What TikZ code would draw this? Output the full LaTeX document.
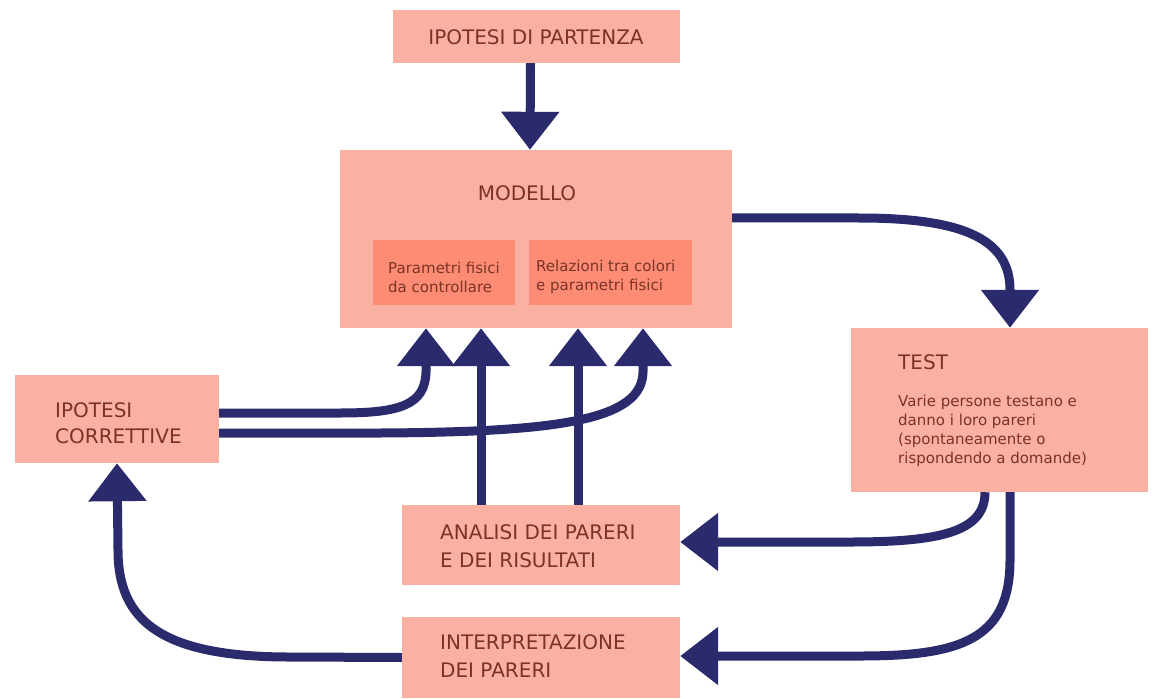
\documentclass[tikz,border=0pt]{standalone}
\usepackage{fontspec}
\setmainfont{DejaVu Sans}
\usetikzlibrary{arrows.meta}
\definecolor{boxfill}{HTML}{FBB1A1}
\definecolor{innerfill}{HTML}{FE8C74}
\definecolor{ink}{HTML}{7A3326}
\definecolor{navy}{HTML}{2B2A6C}
\tikzset{
  box/.style={fill=boxfill, draw=none, inner sep=0pt, anchor=center},
  inner/.style={fill=innerfill, draw=none, inner sep=0pt, anchor=center},
  title/.style={text=ink, font=\fontsize{20}{26}\selectfont, anchor=west, align=left, inner sep=0pt},
  small/.style={text=ink, font=\fontsize{15}{19}\selectfont, anchor=west, align=left, inner sep=0pt},
  flow/.style={draw=navy, line width=9pt, -{Triangle[width=56pt,length=38pt]}},
}
\begin{document}
\begin{tikzpicture}[x=1pt,y=-1pt]
\useasboundingbox (0,0) rectangle (1155,698);

% boxes
\node[box, minimum width=287pt, minimum height=53pt] (part) at (536.5,36.5) {};
\node[box, minimum width=392pt, minimum height=178pt] (mod) at (536,239) {};
\node[inner, minimum width=142pt, minimum height=65pt] (in1) at (444,272.5) {};
\node[inner, minimum width=163pt, minimum height=65pt] (in2) at (610.5,272.5) {};
\node[box, minimum width=297pt, minimum height=164pt] (test) at (999.5,410) {};
\node[box, minimum width=204pt, minimum height=88pt] (corr) at (117,419) {};
\node[box, minimum width=278pt, minimum height=80pt] (anal) at (541,545) {};
\node[box, minimum width=278pt, minimum height=81pt] (interp) at (541,657.5) {};

% texts
\node[title, anchor=center] (tpart) at (536,37) {IPOTESI DI PARTENZA};
\node[title, anchor=center] (tmod) at (527,193) {MODELLO};
\node[small] (tin1) at (388,277) {Parametri fisici\\da controllare};
\node[small] (tin2) at (536,277) {Relazioni tra colori\\e parametri fisici};
\node[title] (ttest) at (898,362) {TEST};
\node[small] (ttestb) at (898,431) {Varie persone testano e\\danno i loro pareri\\(spontaneamente o\\rispondendo a domande)};
\node[title] (tcorr) at (55,423) {IPOTESI\\CORRETTIVE};
\node[title, font=\fontsize{20}{28}\selectfont] (tanal) at (440,546) {ANALISI DEI PARERI\\E DEI RISULTATI};
\node[title, font=\fontsize{20}{28}\selectfont] (tinterp) at (440,656) {INTERPRETAZIONE\\DEI PARERI};

% connectors
\draw[flow] ([xshift=-6pt]part.south) -- ([xshift=-6pt]mod.north);
\draw[flow] ([yshift=-68pt]mod.north east) -- (860,218)
  .. controls (965,218) and (1010,240) .. (1010,290) -- ([xshift=10.5pt]test.north);
\draw[flow] ([xshift=-60pt]anal.north) -- ([xshift=-55pt]mod.south);
\draw[flow] ([xshift=37pt]anal.north) -- ([xshift=42pt]mod.south);
\draw[flow] ([yshift=6pt]corr.east) -- (340,413)
  .. controls (400,413) and (425,405) .. (426,372) -- ([xshift=-110pt]mod.south);
\draw[flow] ([yshift=-14pt]corr.east) -- (380,433)
  .. controls (560,432) and (642,420) .. (643,372) -- ([xshift=107pt]mod.south);
\draw[flow] ([xshift=-14.5pt]test.south)
  .. controls (985,532) and (940,542) .. (850,542) -- ([yshift=3pt]anal.east);
\draw[flow] ([xshift=10.5pt]test.south) -- (1010,560)
  .. controls (1010,640) and (960,656) .. (860,656) -- ([yshift=1.5pt]interp.east);
\draw[flow] (interp.west) -- (290,657)
  .. controls (160,657) and (118,620) .. (118,550) -- (corr.south);
\end{tikzpicture}
\end{document}
